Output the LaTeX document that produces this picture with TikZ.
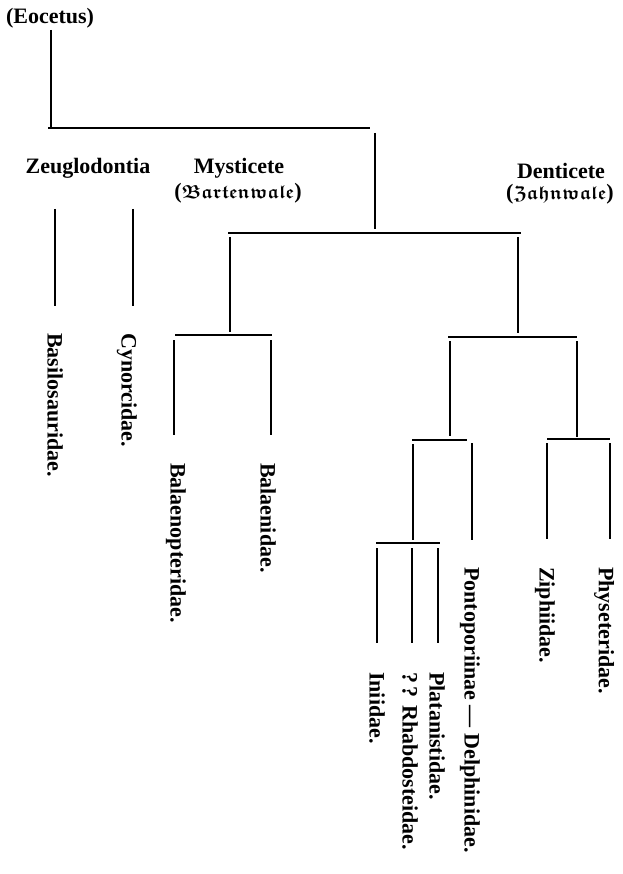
\documentclass[tikz,border=0pt]{standalone}
\usepackage{amssymb}
\usepackage{graphicx}
\usepackage{fontspec}
\setmainfont{Liberation Serif}
\newcommand{\frk}[1]{\scalebox{0.86}{$\mathfrak{#1}$}}
\begin{document}
\begin{tikzpicture}[x=1pt,y=-1pt,
  lab/.style={font=\fontsize{22}{25}\selectfont\bfseries\boldmath, inner sep=0pt},
  vlab/.style={lab, rotate=-90, anchor=west},
  vl/.style={line width=2.6pt},
  hl/.style={line width=1.3pt}]
\useasboundingbox (0,0) rectangle (622,874);
% labels
\node[lab] (eoc) at (50,18) {(Eocetus)};
\node[lab] (zeu) at (88,168) {Zeuglodontia};
\node[lab] (mys) at (239,168) {Mysticete};
\node[lab] (bart) at (238,193) {(\frk{Bartenwale})};
\node[lab] (den) at (561,171) {Denticete};
\node[lab] (zahn) at (560,194) {(\frk{Zahnwale})};
\node[vlab] (bas) at (55,333) {Basilosauridae.};
\node[vlab] (cyn) at (127,333) {Cynorcidae.};
\node[vlab] (bpt) at (176,463) {Balaenopteridae.};
\node[vlab] (bal) at (268,463) {Balaenidae.};
\node[vlab] (pon) at (470,567) {Pontoporiinae --- Delphinidae.};
\node[vlab] (zip) at (545,567) {Ziphiidae.};
\node[vlab] (phy) at (604,567) {Physeteridae.};
\node[vlab] (pla) at (437,672) {Platanistidae.};
\node[vlab] (rha) at (410,672) {?\,? Rhabdosteidae.};
\node[vlab] (ini) at (377,672) {Iniidae.};
% joints
\coordinate (r0t) at (51,30);   \coordinate (r0b) at (51,127);
\coordinate (h0l) at (48,128);  \coordinate (h0r) at (370,128);
\coordinate (v1t) at (375,133); \coordinate (v1b) at (375,229);
\coordinate (h1l) at (228,233); \coordinate (h1r) at (521,233);
\coordinate (mst) at (230,237); \coordinate (msb) at (230,332);
\coordinate (dst) at (518,237); \coordinate (dsb) at (518,333);
\coordinate (hml) at (175,335); \coordinate (hmr) at (272,335);
\coordinate (bpa) at (174,340); \coordinate (bpb) at (174,435);
\coordinate (baa) at (271,340); \coordinate (bab) at (271,435);
\coordinate (hdl) at (448,337); \coordinate (hdr) at (577,337);
\coordinate (dla) at (450,341); \coordinate (dlb) at (450,436);
\coordinate (dra) at (577,341); \coordinate (drb) at (577,437);
\coordinate (h3ll) at (412,440); \coordinate (h3lr) at (467,440);
\coordinate (pla1) at (413,444); \coordinate (pla2) at (413,540);
\coordinate (pon1) at (472,443); \coordinate (pon2) at (472,540);
\coordinate (h3rl) at (547,439); \coordinate (h3rr) at (610,439);
\coordinate (zip1) at (547,443); \coordinate (zip2) at (547,539);
\coordinate (phy1) at (610,443); \coordinate (phy2) at (610,539);
\coordinate (h4l) at (376,543); \coordinate (h4r) at (440,543);
\coordinate (ini1) at (377,548); \coordinate (ini2) at (377,643);
\coordinate (rha1) at (412,548); \coordinate (rha2) at (412,643);
\coordinate (plt1) at (438,548); \coordinate (plt2) at (438,643);
\coordinate (bas1) at (55,209); \coordinate (bas2) at (55,306);
\coordinate (cyn1) at (133,209); \coordinate (cyn2) at (133,306);
% lines
\draw[vl] (r0t) -- (r0b);
\draw[hl] (h0l) -- (h0r);
\draw[vl] (v1t) -- (v1b);
\draw[hl] (h1l) -- (h1r);
\draw[vl] (mst) -- (msb);
\draw[vl] (dst) -- (dsb);
\draw[hl] (hml) -- (hmr);
\draw[vl] (bpa) -- (bpb);
\draw[vl] (baa) -- (bab);
\draw[hl] (hdl) -- (hdr);
\draw[vl] (dla) -- (dlb);
\draw[vl] (dra) -- (drb);
\draw[hl] (h3ll) -- (h3lr);
\draw[vl] (pla1) -- (pla2);
\draw[vl] (pon1) -- (pon2);
\draw[hl] (h3rl) -- (h3rr);
\draw[vl] (zip1) -- (zip2);
\draw[vl] (phy1) -- (phy2);
\draw[hl] (h4l) -- (h4r);
\draw[vl] (ini1) -- (ini2);
\draw[vl] (rha1) -- (rha2);
\draw[vl] (plt1) -- (plt2);
\draw[vl] (bas1) -- (bas2);
\draw[vl] (cyn1) -- (cyn2);
\end{tikzpicture}
\end{document}
